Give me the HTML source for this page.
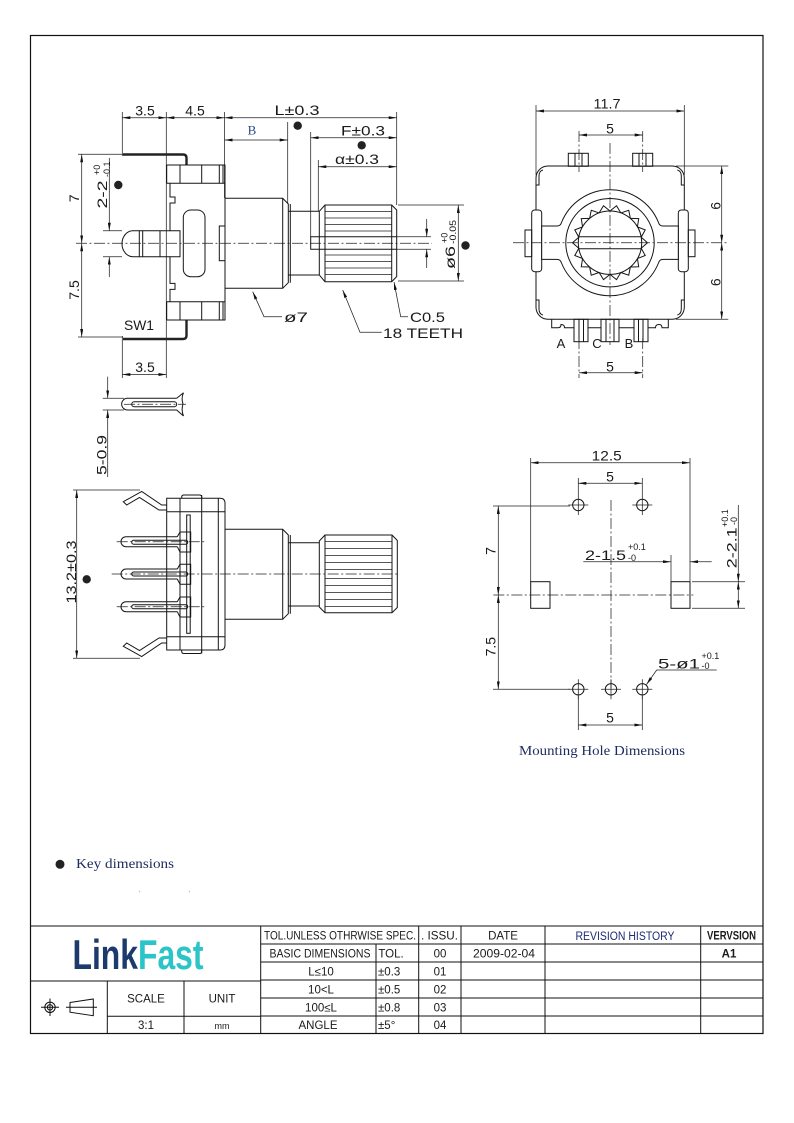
<!DOCTYPE html>
<html><head><meta charset="utf-8"><title>LinkFast encoder drawing</title>
<style>
html,body{margin:0;padding:0;background:#fff;}
svg{display:block;}
.l{stroke:#151515;stroke-width:1;fill:none;}
.t{stroke:#222;stroke-width:0.75;fill:none;}
.c{stroke:#222;stroke-width:0.75;fill:none;stroke-dasharray:11 2.5 2 2.5;}
text{font-family:"Liberation Sans",Arial,sans-serif;fill:#1a1a1a;}
.dim{font-size:14px;}
.tb{font-size:11.5px;fill:#111;}
</style></head>
<body>
<svg width="794" height="1123" viewBox="0 0 794 1123" xmlns="http://www.w3.org/2000/svg">
<defs>
<marker id="ar" viewBox="0 0 8 3" refX="8" refY="1.5" markerWidth="8" markerHeight="3" markerUnits="userSpaceOnUse" orient="auto-start-reverse"><path d="M0,0L8,1.5L0,3z" fill="#111"/></marker>
<path id="tooth" d="M-5.5,-31.2 L0,-37.5 L5.5,-31.2" fill="none" stroke="#151515" stroke-width="1"/>
</defs>
<rect width="794" height="1123" fill="#fff"/>
<!-- outer frame -->
<rect x="30.5" y="35.5" width="732.5" height="998" fill="none" stroke="#111" stroke-width="1.2"/>

<!-- ================= TOP-LEFT SIDE VIEW ================= -->
<g>
<line class="c" x1="76" y1="243.3" x2="432" y2="243.3"/>
<line class="t" x1="122.3" y1="112" x2="122.3" y2="156"/>
<line class="t" x1="166.3" y1="112" x2="166.3" y2="378"/>
<line class="t" x1="224.5" y1="112" x2="224.5" y2="198"/>
<line class="t" x1="396.7" y1="112" x2="396.7" y2="205"/>
<line class="t" x1="287.7" y1="122" x2="287.7" y2="203"/>
<line class="t" x1="310.7" y1="132" x2="310.7" y2="237"/>
<line class="t" x1="318.3" y1="160" x2="318.3" y2="211"/>
<line class="t" x1="122.3" y1="117.7" x2="166.3" y2="117.7" marker-start="url(#ar)" marker-end="url(#ar)"/>
<line class="t" x1="166.3" y1="117.7" x2="224.5" y2="117.7" marker-start="url(#ar)" marker-end="url(#ar)"/>
<line class="t" x1="224.5" y1="117.7" x2="396.7" y2="117.7" marker-start="url(#ar)" marker-end="url(#ar)"/>
<line class="t" x1="224.5" y1="140" x2="287.7" y2="140" marker-start="url(#ar)" marker-end="url(#ar)"/>
<line class="t" x1="310.7" y1="137.7" x2="396.7" y2="137.7" marker-start="url(#ar)" marker-end="url(#ar)"/>
<line class="t" x1="318.3" y1="166.7" x2="396.7" y2="166.7" marker-start="url(#ar)" marker-end="url(#ar)"/>
<text class="dim" x="145" y="115.5" text-anchor="middle">3.5</text>
<text class="dim" x="195" y="115.5" text-anchor="middle">4.5</text>
<text class="dim" x="297" y="115" text-anchor="middle" textLength="45" lengthAdjust="spacingAndGlyphs">L±0.3</text>
<circle cx="297.7" cy="125.7" r="4.2" fill="#222"/>
<text x="252" y="134.5" text-anchor="middle" style="font-family:'Liberation Serif',serif;font-size:13px;fill:#2b4c8c">B</text>
<text class="dim" x="363" y="135.5" text-anchor="middle" textLength="44" lengthAdjust="spacingAndGlyphs">F±0.3</text>
<circle cx="361.7" cy="145.3" r="4.2" fill="#222"/>
<text class="dim" x="357" y="164" text-anchor="middle" textLength="44" lengthAdjust="spacingAndGlyphs">α±0.3</text>

<line class="t" x1="78" y1="154.3" x2="123" y2="154.3"/>
<line class="t" x1="78" y1="337" x2="123" y2="337"/>
<line class="t" x1="81.7" y1="154.3" x2="81.7" y2="243.3" marker-start="url(#ar)" marker-end="url(#ar)"/>
<line class="t" x1="81.7" y1="243.3" x2="81.7" y2="337" marker-start="url(#ar)" marker-end="url(#ar)"/>
<text class="dim" transform="translate(79,198.3) rotate(-90)" text-anchor="middle">7</text>
<text class="dim" transform="translate(79,290) rotate(-90)" text-anchor="middle">7.5</text>
<line class="t" x1="103" y1="230.7" x2="122" y2="230.7"/>
<line class="t" x1="103" y1="256.7" x2="122" y2="256.7"/>
<line class="t" x1="109.3" y1="158" x2="109.3" y2="230.7" marker-end="url(#ar)"/>
<line class="t" x1="109.3" y1="277" x2="109.3" y2="256.7" marker-end="url(#ar)"/>
<text class="dim" transform="translate(107,208.5) rotate(-90)" textLength="28" lengthAdjust="spacingAndGlyphs">2-2</text>
<text transform="translate(100,175) rotate(-90)" style="font-size:9px">+0</text>
<text transform="translate(109.8,177) rotate(-90)" style="font-size:9px">-0.1</text>
<circle cx="118.3" cy="185" r="4.2" fill="#222"/>
<text class="dim" x="124" y="330" textLength="30" lengthAdjust="spacingAndGlyphs">SW1</text>

<path d="M123,154.5 H183 Q186.5,154.5 186.5,158 V165.5" fill="none" stroke="#222" stroke-width="2.4"/>
<path d="M123,339 H183 Q186.5,339 186.5,335.5 V320" fill="none" stroke="#222" stroke-width="2.4"/>
<g class="l">
<path d="M166.7,165 H225 V320 H166.7 M166.7,165 V183.3 M166.7,301.7 V320"/>
<path d="M166.7,183.3 H225 M166.7,301.7 H225"/>
<path d="M180,165 V183.3 M201.7,165 V183.3 M219.3,165 V183.3 M223,165 V183.3"/>
<path d="M180,301.7 V320 M201.7,301.7 V320 M219.3,301.7 V320 M223,301.7 V320"/>
<path d="M225,183.3 V301.7"/>
<path d="M170,183.3 V197 H175 V203 H170 V230.7 H180 V256.7 H170 V283.4 H175 V289.4 H170 V301.7"/>
<rect x="183.3" y="210" width="21.7" height="66.7" rx="7.5"/>
<rect x="219.3" y="226" width="5.7" height="34.7"/>
<path d="M139.3,230.7 H133 A11,13 0 0 0 133,256.7 H139.3 Z"/>
<path d="M139.3,230.7 H170 M139.3,256.7 H170 M142.7,230.7 V256.7 M160,230.7 V256.7"/>
<path d="M224.5,198.3 H282.7 L288.3,204 V282.7 L282.7,288.3 H224.5 M282.7,198.3 V288.3"/>
<path d="M288.3,211.3 H319.3 M288.3,275 H319.3 M290.3,204 V282.7"/>
<path d="M319.3,211.3 L325,205 H391.7 L396.7,210 V276.5 L391.7,281.7 H325 L319.3,275 Z M325,205 V281.7 M391.7,205 V281.7"/>
</g>
<g class="t">
<path d="M325,211.5 H391.7 M325,218 H391.7 M325,224.5 H391.7 M325,231 H391.7 M325,255 H391.7 M325,261.5 H391.7 M325,268 H391.7 M325,274.5 H391.7"/>
</g>
<path class="l" d="M396.7,236.7 H310.7 V249.3 H396.7"/>
<line class="t" x1="396.7" y1="236.7" x2="431" y2="236.7"/>
<line class="t" x1="396.7" y1="249.3" x2="431" y2="249.3"/>
<line class="t" x1="426.7" y1="219" x2="426.7" y2="236.7" marker-end="url(#ar)"/>
<line class="t" x1="426.7" y1="268" x2="426.7" y2="249.3" marker-end="url(#ar)"/>
<line class="t" x1="398" y1="205" x2="464" y2="205"/>
<line class="t" x1="398" y1="281" x2="464" y2="281"/>
<line class="t" x1="458.3" y1="205" x2="458.3" y2="281" marker-start="url(#ar)" marker-end="url(#ar)"/>
<text class="dim" transform="translate(455,269) rotate(-90)" textLength="23" lengthAdjust="spacingAndGlyphs">ø6</text>
<text transform="translate(447.5,243) rotate(-90)" style="font-size:9px">+0</text>
<text transform="translate(456,244) rotate(-90)" style="font-size:9px" textLength="24" lengthAdjust="spacingAndGlyphs">-0.05</text>
<circle cx="465.5" cy="245.5" r="4.2" fill="#222"/>
<polyline class="t" points="252.7,291.7 264,316.7 282,316.7" marker-start="url(#ar)"/>
<text class="dim" x="284" y="322" textLength="24" lengthAdjust="spacingAndGlyphs">ø7</text>
<polyline class="t" points="342.7,290 360,332.3 381.7,332.3" marker-start="url(#ar)"/>
<text class="dim" x="383" y="338" textLength="80" lengthAdjust="spacingAndGlyphs">18 TEETH</text>
<polyline class="t" points="394,282 400.7,316.7 408,316.7" marker-start="url(#ar)"/>
<text class="dim" x="410" y="322" textLength="35" lengthAdjust="spacingAndGlyphs">C0.5</text>
<line class="t" x1="122.3" y1="336" x2="122.3" y2="378"/>
<line class="t" x1="122.3" y1="374.5" x2="166.3" y2="374.5" marker-start="url(#ar)" marker-end="url(#ar)"/>
<text class="dim" x="145" y="372" text-anchor="middle">3.5</text>
</g>

<!-- ================= PIN DETAIL ================= -->
<g>
<line class="t" x1="107.7" y1="376.7" x2="107.7" y2="398.3" marker-end="url(#ar)"/>
<line class="t" x1="107.7" y1="477" x2="107.7" y2="410" marker-end="url(#ar)"/>
<line class="t" x1="102.7" y1="398.3" x2="124" y2="398.3"/>
<line class="t" x1="102.7" y1="410" x2="124" y2="410"/>
<path class="l" d="M176.7,398.3 H127.5 A5.8,5.8 0 0 0 127.5,410 H176.7 L183.5,416 M176.7,398.3 L183.5,392.7 M183.5,392.7 Q181,398 183,404 Q181,410 183.5,416"/>
<rect class="l" x="131.7" y="401.8" width="45" height="5" rx="2.5"/>
<line class="c" x1="124" y1="404.3" x2="186" y2="404.3"/>
<text class="dim" transform="translate(106.5,475) rotate(-90)" textLength="40" lengthAdjust="spacingAndGlyphs">5-0.9</text>
</g>

<!-- ================= BOTTOM-LEFT VIEW ================= -->
<g>
<line class="t" x1="73" y1="490" x2="140" y2="490"/>
<line class="t" x1="73" y1="658.3" x2="140" y2="658.3"/>
<line class="t" x1="76.7" y1="490" x2="76.7" y2="658.3" marker-start="url(#ar)" marker-end="url(#ar)"/>
<text class="dim" transform="translate(76,603.5) rotate(-90)" textLength="63" lengthAdjust="spacingAndGlyphs">13.2±0.3</text>
<circle cx="86.7" cy="579.3" r="4.2" fill="#222"/>
<g class="l">
<path d="M166.7,505 H161.7 L141.7,491.5 L123.3,501.7 L126.7,505 L139.5,497.5 L159,510 H166.7"/>
<path d="M166.7,643 H161.7 L141.7,656.5 L123.3,646.3 L126.7,643 L139.5,650.5 L159,638 H166.7"/>
<path d="M166.7,498.3 H220 Q225,498.3 225,503.3 V645 Q225,650 220,650 H166.7 Z"/>
<path d="M181.7,498.3 V497 Q181.7,495 184,495 H199.5 Q201.7,495 201.7,497 V498.3"/>
<path d="M181.7,650 V651.5 Q181.7,653.5 184,653.5 H199.5 Q201.7,653.5 201.7,651.5 V650"/>
<path d="M180,498.3 V650 M201.7,495 V653.5 M218.3,498.3 V650 M166.7,511.7 H225 M166.7,636.7 H225"/>
<rect x="186.7" y="515" width="3.5" height="118.3"/>
<path d="M225,529.3 H282.7 L288.3,535 V613.7 L282.7,619.3 H225 M282.7,529.3 V619.3"/>
<path d="M288.3,542.7 H319.3 M288.3,606 H319.3 M290.3,535 V613.7"/>
<path d="M319.3,541 L325,535 H392 L397.3,540.5 V607.5 L392,612.7 H325 L319.3,607 Z M325,535 V612.7 M392,535 V612.7"/>
</g>
<g class="t">
<path d="M325,541.5 H392 M325,548.5 H392 M325,555.5 H392 M325,562.5 H392 M325,569.5 H392 M325,578.5 H392 M325,585.5 H392 M325,592.5 H392 M325,599.5 H392 M325,606.5 H392"/>
</g>
<line class="c" x1="111.7" y1="574" x2="398" y2="574"/>
<g class="l">
<path d="M177.3,536.7 H126 A5,5 0 0 0 126,546.7 H177.3 M177.3,536.7 L180,532 H190.7 V552 H180 L177.3,546.7"/>
<rect x="131.7" y="540.2" width="56" height="4" rx="2"/>
<path d="M177.3,569 H126 A5,5 0 0 0 126,579 H177.3 M177.3,569 L180,564.3 H190.7 V584.3 H180 L177.3,579"/>
<rect x="131.7" y="572" width="56" height="4" rx="2"/>
<path d="M177.3,601.7 H126 A5,5 0 0 0 126,611.7 H177.3 M177.3,601.7 L180,597 H190.7 V617 H180 L177.3,611.7"/>
<rect x="131.7" y="604.7" width="56" height="4" rx="2"/>
</g>
<line class="c" x1="116.7" y1="541.7" x2="205" y2="541.7"/>
<line class="c" x1="116.7" y1="606.7" x2="205" y2="606.7"/>
</g>

<!-- ================= FRONT VIEW (TOP-RIGHT) ================= -->
<g>
<line class="t" x1="536" y1="105" x2="536" y2="175"/>
<line class="t" x1="684.3" y1="105" x2="684.3" y2="175"/>
<line class="t" x1="536" y1="111" x2="684.3" y2="111" marker-start="url(#ar)" marker-end="url(#ar)"/>
<text class="dim" x="607" y="108.5" text-anchor="middle" textLength="27" lengthAdjust="spacingAndGlyphs">11.7</text>
<line class="t" x1="579" y1="135" x2="642.7" y2="135" marker-start="url(#ar)" marker-end="url(#ar)"/>
<text class="dim" x="610" y="133.3" text-anchor="middle">5</text>
<line class="c" x1="579" y1="131" x2="579" y2="172"/>
<line class="c" x1="642.7" y1="131" x2="642.7" y2="172"/>
<g class="l">
<rect x="568.3" y="153.3" width="20" height="13"/>
<path d="M575,153.3 V166 M582,153.3 V166"/>
<rect x="632.7" y="153.3" width="20" height="13"/>
<path d="M639,153.3 V166 M646,153.3 V166"/>
<rect x="536" y="166" width="148.3" height="153.3" rx="12"/>
<path d="M543,170 Q539,171 539,176 V185 H536 M677.3,170 Q681.3,171 681.3,176 V185 H684.3"/>
<path d="M543,315 Q539,314 539,309 V300 H536 M677.3,315 Q681.3,314 681.3,309 V300 H684.3"/>
<rect x="531.7" y="210" width="10" height="61.7" rx="3" fill="#fff"/>
<rect x="525" y="230" width="6.7" height="26.7"/>
<rect x="678.3" y="210" width="10" height="61.7" rx="3" fill="#fff"/>
<rect x="688.3" y="230" width="6.7" height="26.7"/>
<path d="M541.7,226 H557 Q560.5,226 561.5,222.5 A52.3,52.3 0 0 1 658.5,222.5 Q659.5,226 663,226 H678.3 V259.4 H663 Q659.5,259.4 658.5,263 A52.3,52.3 0 0 1 561.5,263 Q560.5,259.4 557,259.4 H541.7 Z" fill="#fff"/>
<circle cx="610" cy="242.7" r="44.2"/>
<circle cx="610" cy="242.7" r="31.7"/>
<path d="M578.9,236.7 H641.1 M578.9,248.7 H641.1"/>
</g>
<g transform="translate(610,242.7)">
<use href="#tooth" transform="rotate(10)"/><use href="#tooth" transform="rotate(30)"/><use href="#tooth" transform="rotate(50)"/>
<use href="#tooth" transform="rotate(70)"/><use href="#tooth" transform="rotate(90)"/><use href="#tooth" transform="rotate(110)"/>
<use href="#tooth" transform="rotate(130)"/><use href="#tooth" transform="rotate(150)"/><use href="#tooth" transform="rotate(170)"/>
<use href="#tooth" transform="rotate(190)"/><use href="#tooth" transform="rotate(210)"/><use href="#tooth" transform="rotate(230)"/>
<use href="#tooth" transform="rotate(250)"/><use href="#tooth" transform="rotate(270)"/><use href="#tooth" transform="rotate(290)"/>
<use href="#tooth" transform="rotate(310)"/><use href="#tooth" transform="rotate(330)"/><use href="#tooth" transform="rotate(350)"/>
</g>
<g class="l">
<path d="M551.7,319.3 V327.7 H558 Q561,327.7 561,324.5 Q564.5,324.5 564.5,327.7 H574 M588,327.7 H601 M619,327.7 H634 M648,327.7 H655.5 Q655.5,324.5 659,324.5 Q662,324.5 662,327.7 H668.3 V319.3"/>
<rect x="574" y="319.3" width="14" height="22.4"/>
<path d="M579,319.3 V341.7 M583.5,319.3 V341.7"/>
<rect x="601" y="319.3" width="18" height="22.4"/>
<path d="M606,319.3 V341.7 M614,319.3 V341.7"/>
<rect x="634" y="319.3" width="14" height="22.4"/>
<path d="M638.5,319.3 V341.7 M643,319.3 V341.7"/>
</g>
<line class="c" x1="513" y1="242.7" x2="728" y2="242.7"/>
<line class="c" x1="610" y1="143" x2="610" y2="345"/>
<line class="t" x1="676" y1="166" x2="728.3" y2="166"/>
<line class="t" x1="676" y1="319.3" x2="728.3" y2="319.3"/>
<line class="t" x1="721.7" y1="166" x2="721.7" y2="242.7" marker-start="url(#ar)" marker-end="url(#ar)"/>
<line class="t" x1="721.7" y1="242.7" x2="721.7" y2="319.3" marker-start="url(#ar)" marker-end="url(#ar)"/>
<text class="dim" transform="translate(720.5,205.8) rotate(-90)" text-anchor="middle">6</text>
<text class="dim" transform="translate(720.5,282.2) rotate(-90)" text-anchor="middle">6</text>
<text class="dim" x="561" y="348" text-anchor="middle" style="font-size:13px">A</text>
<text class="dim" x="597" y="348" text-anchor="middle" style="font-size:13px">C</text>
<text class="dim" x="629" y="348" text-anchor="middle" style="font-size:13px">B</text>
<line class="c" x1="579" y1="338" x2="579" y2="378"/>
<line class="c" x1="642.7" y1="338" x2="642.7" y2="378"/>
<line class="t" x1="579" y1="372.7" x2="642.7" y2="372.7" marker-start="url(#ar)" marker-end="url(#ar)"/>
<text class="dim" x="610" y="371.5" text-anchor="middle">5</text>
</g>

<!-- ================= MOUNTING HOLES ================= -->
<g>
<line class="t" x1="530.7" y1="458" x2="530.7" y2="582"/>
<line class="t" x1="690" y1="458" x2="690" y2="582"/>
<line class="t" x1="530.7" y1="462.7" x2="690" y2="462.7" marker-start="url(#ar)" marker-end="url(#ar)"/>
<text class="dim" x="606.7" y="460.5" text-anchor="middle" textLength="30" lengthAdjust="spacingAndGlyphs">12.5</text>
<line class="t" x1="578.3" y1="478" x2="578.3" y2="495"/>
<line class="t" x1="642.3" y1="478" x2="642.3" y2="495"/>
<line class="t" x1="578.3" y1="483.3" x2="642.3" y2="483.3" marker-start="url(#ar)" marker-end="url(#ar)"/>
<text class="dim" x="610" y="481.5" text-anchor="middle">5</text>
<g class="l">
<circle cx="578.3" cy="505" r="5.7"/><circle cx="642.3" cy="505" r="5.7"/>
<circle cx="578.3" cy="689.3" r="5.7"/><circle cx="611" cy="689.3" r="5.7"/><circle cx="642.3" cy="689.3" r="5.7"/>
<rect x="530.7" y="581.7" width="19.3" height="26.6"/>
<rect x="671" y="581.7" width="19" height="26.6"/>
</g>
<g class="t">
<path d="M568.3,505 H588.3 M578.3,495 V515 M632.3,505 H652.3 M642.3,495 V515"/>
<path d="M568.3,689.3 H588.3 M578.3,679.3 V699.3 M601,689.3 H621 M611,679.3 V699.3 M632.3,689.3 H652.3 M642.3,679.3 V699.3"/>
</g>
<line class="c" x1="493.3" y1="595" x2="693.3" y2="595"/>
<line class="c" x1="611" y1="500" x2="611" y2="688"/>
<line class="t" x1="493" y1="506" x2="570" y2="506"/>
<line class="t" x1="493" y1="689.3" x2="570" y2="689.3"/>
<line class="t" x1="498.3" y1="506" x2="498.3" y2="595" marker-start="url(#ar)" marker-end="url(#ar)"/>
<line class="t" x1="498.3" y1="595" x2="498.3" y2="689.3" marker-start="url(#ar)" marker-end="url(#ar)"/>
<text class="dim" transform="translate(495.5,551) rotate(-90)" text-anchor="middle">7</text>
<text class="dim" transform="translate(495.5,646.7) rotate(-90)" text-anchor="middle">7.5</text>
<line class="t" x1="578.3" y1="696" x2="578.3" y2="730"/>
<line class="t" x1="642.3" y1="696" x2="642.3" y2="730"/>
<line class="t" x1="578.3" y1="725" x2="642.3" y2="725" marker-start="url(#ar)" marker-end="url(#ar)"/>
<text class="dim" x="610" y="722.5" text-anchor="middle">5</text>
<line class="t" x1="671" y1="555" x2="671" y2="581.7"/>
<line class="t" x1="583.3" y1="561.7" x2="671" y2="561.7" marker-end="url(#ar)"/>
<line class="t" x1="711.7" y1="561.7" x2="690" y2="561.7" marker-end="url(#ar)"/>
<text class="dim" x="585" y="560" textLength="41" lengthAdjust="spacingAndGlyphs">2-1.5</text>
<text x="628" y="550" style="font-size:9px">+0.1</text>
<text x="628" y="561" style="font-size:9px">-0</text>
<line class="t" x1="692" y1="581.7" x2="745" y2="581.7"/>
<line class="t" x1="692" y1="608.3" x2="745" y2="608.3"/>
<line class="t" x1="738.3" y1="505" x2="738.3" y2="581.7" marker-end="url(#ar)"/>
<line class="t" x1="738.3" y1="581.7" x2="738.3" y2="608.3" marker-start="url(#ar)" marker-end="url(#ar)"/>
<text class="dim" transform="translate(736.5,568.3) rotate(-90)" textLength="41" lengthAdjust="spacingAndGlyphs">2-2.1</text>
<text transform="translate(728,527) rotate(-90)" style="font-size:9px">+0.1</text>
<text transform="translate(737,525) rotate(-90)" style="font-size:9px">-0</text>
<polyline class="t" points="646.5,684.5 656.7,670 716.7,670" marker-start="url(#ar)"/>
<text class="dim" x="658" y="668.5" textLength="42" lengthAdjust="spacingAndGlyphs">5-ø1</text>
<text x="701.5" y="659" style="font-size:9px">+0.1</text>
<text x="701.5" y="669" style="font-size:9px">-0</text>
<text x="602" y="755" text-anchor="middle" textLength="166" lengthAdjust="spacingAndGlyphs" style="font-family:'Liberation Serif',serif;font-size:14px;fill:#1c2a5e">Mounting Hole Dimensions</text>
</g>

<!-- key dimensions -->
<circle cx="60" cy="864.3" r="4.5" fill="#222"/>
<text x="76" y="868" textLength="98" lengthAdjust="spacingAndGlyphs" style="font-family:'Liberation Serif',serif;font-size:14px;fill:#1c2a5e">Key dimensions</text>
<circle cx="139.5" cy="891.5" r="0.7" fill="#bbb"/><circle cx="189.5" cy="891.5" r="0.7" fill="#bbb"/>

<!-- ================= TITLE BLOCK ================= -->
<g stroke="#111" stroke-width="1" fill="none">
<line x1="30" y1="926" x2="763" y2="926"/>
<line x1="260.7" y1="926" x2="260.7" y2="1034"/>
<line x1="376" y1="944" x2="376" y2="1034"/>
<line x1="418.7" y1="926" x2="418.7" y2="1034"/>
<line x1="461" y1="926" x2="461" y2="1034"/>
<line x1="545" y1="926" x2="545" y2="1034"/>
<line x1="700.7" y1="926" x2="700.7" y2="1034"/>
<line x1="260.7" y1="944" x2="763" y2="944"/>
<line x1="260.7" y1="962" x2="763" y2="962"/>
<line x1="260.7" y1="980" x2="763" y2="980"/>
<line x1="260.7" y1="998" x2="763" y2="998"/>
<line x1="260.7" y1="1016" x2="763" y2="1016"/>
<line x1="30" y1="981" x2="260.7" y2="981"/>
<line x1="107.3" y1="981" x2="107.3" y2="1034"/>
<line x1="184" y1="981" x2="184" y2="1034"/>
<line x1="107.3" y1="1016.3" x2="260.7" y2="1016.3"/>
</g>
<text x="72.5" y="969" textLength="131" lengthAdjust="spacingAndGlyphs" style="font-family:'Liberation Sans',sans-serif;font-weight:bold;font-size:42px"><tspan fill="#1c3b6c">Link</tspan><tspan fill="#2bc4c8">Fast</tspan></text>
<g stroke="#111" stroke-width="1" fill="none">
<circle cx="50" cy="1007.3" r="5.2"/>
<circle cx="50" cy="1007.3" r="2.7"/>
<path d="M41,1007.3 H59 M50,998.5 V1016"/>
<path d="M70,1002.5 L93.3,999 V1015.7 L70,1012.2 Z M66,1007.3 H97"/>
</g>
<g class="tb">
<text x="264" y="939.5" textLength="152" lengthAdjust="spacingAndGlyphs">TOL.UNLESS OTHRWISE SPEC.</text>
<text x="421" y="939.5" textLength="37" lengthAdjust="spacingAndGlyphs">. ISSU.</text>
<text x="503" y="939.5" text-anchor="middle">DATE</text>
<text x="625" y="940" text-anchor="middle" textLength="99" lengthAdjust="spacingAndGlyphs" style="fill:#1c2a72">REVISION HISTORY</text>
<text x="731.5" y="939.5" text-anchor="middle" textLength="49" lengthAdjust="spacingAndGlyphs" style="font-weight:bold">VERVSION</text>
<text x="320" y="957.5" text-anchor="middle" textLength="101" lengthAdjust="spacingAndGlyphs">BASIC DIMENSIONS</text>
<text x="391" y="957.5" text-anchor="middle">TOL.</text>
<text x="440" y="957.5" text-anchor="middle">00</text>
<text x="504" y="957.5" text-anchor="middle" textLength="62" lengthAdjust="spacingAndGlyphs">2009-02-04</text>
<text x="729" y="957.5" text-anchor="middle" style="font-weight:bold">A1</text>
<text x="321" y="975.5" text-anchor="middle">L≤10</text>
<text x="378" y="975.5">±0.3</text>
<text x="440" y="975.5" text-anchor="middle">01</text>
<text x="321" y="993.5" text-anchor="middle">10&lt;L</text>
<text x="378" y="993.5">±0.5</text>
<text x="440" y="993.5" text-anchor="middle">02</text>
<text x="321" y="1011.5" text-anchor="middle">100≤L</text>
<text x="378" y="1011.5">±0.8</text>
<text x="440" y="1011.5" text-anchor="middle">03</text>
<text x="318" y="1029" text-anchor="middle">ANGLE</text>
<text x="378" y="1029">±5°</text>
<text x="440" y="1029" text-anchor="middle">04</text>
<text x="146" y="1002.5" text-anchor="middle">SCALE</text>
<text x="222" y="1002.5" text-anchor="middle">UNIT</text>
<text x="146" y="1029" text-anchor="middle">3:1</text>
<text x="222" y="1029" text-anchor="middle" style="font-size:9px">mm</text>
</g>
</svg>
</body></html>
